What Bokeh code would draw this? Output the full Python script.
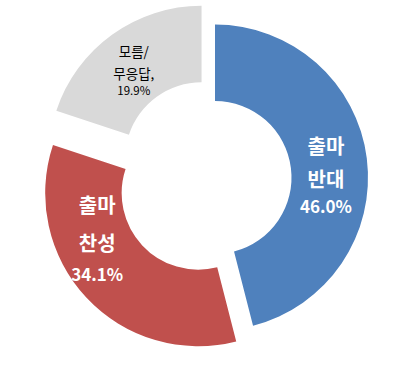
import numpy as np
from bokeh.plotting import figure
from bokeh.models import Range1d, ColumnDataSource
from bokeh.core.properties import value
from bokeh.embed import file_html
from bokeh.resources import INLINE

# ---- data ----
categories = ["출마 반대", "출마 찬성", "모름/무응답"]
name_lines = [["출마", "반대"], ["출마", "찬성"], ["모름/", "무응답,"]]
values = [46.0, 34.1, 19.9]

# ---- style ----
colors = ["#4F81BD", "#C0504D", "#D9D9D9"]
explode = [0.0, 23.0, 23.0]          # px offset along bisector
outer_r = 153.0
inner_r = 76.5
label_angle_deg = [89.0, 245.5, 322.4]   # clockwise from top
label_radius = 111.0
line_offsets = [[30, -3, -30], [35, -3, -34], [20, -2, -19]]
label_colors = ["white", "white", "#000000"]
name_sizes = ["20px", "20px", "13.5px"]
pct_sizes = ["17px", "17px", "11.5px"]
label_styles = ["bold", "bold", "normal"]

vals = np.array(values)
cum = np.cumsum(vals)
start_frac = (cum - vals) / vals.sum()
end_frac = cum / vals.sum()
start_ang = np.pi / 2 - 2 * np.pi * start_frac
end_ang = np.pi / 2 - 2 * np.pi * end_frac
mid_ang = (start_ang + end_ang) / 2
cx = np.array(explode) * np.cos(mid_ang)
cy = np.array(explode) * np.sin(mid_ang)

src = ColumnDataSource(dict(x=cx, y=cy, start=start_ang, end=end_ang,
                            color=colors, cat=categories))

p = figure(width=392, height=349, output_backend="svg", toolbar_location=None,
           x_range=Range1d(-214.5, 177.5), y_range=Range1d(-172, 177),
           min_border=0, background_fill_color="white",
           border_fill_color="white")
p.axis.visible = False
p.grid.visible = False
p.outline_line_color = None

p.annular_wedge(x="x", y="y", inner_radius=inner_r, outer_radius=outer_r,
                start_angle="start", end_angle="end", direction="clock",
                fill_color="color", line_color=None, source=src)

for i in range(len(values)):
    a = np.deg2rad(label_angle_deg[i])
    lx = cx[i] + label_radius * np.sin(a)
    ly = cy[i] + label_radius * np.cos(a)
    lines = name_lines[i] + [f"{values[i]:.1f}%"]
    sizes = [name_sizes[i]] * len(name_lines[i]) + [pct_sizes[i]]
    for txt, off, sz in zip(lines, line_offsets[i], sizes):
        p.text(x=[lx], y=[ly + off], text=[txt], text_align="center",
               text_baseline="middle",
               text_font=value("Noto Sans CJK KR"), text_font_size=value(sz),
               text_font_style=label_styles[i], text_color=label_colors[i])

open("out.html", "w").write(file_html(p, INLINE))
